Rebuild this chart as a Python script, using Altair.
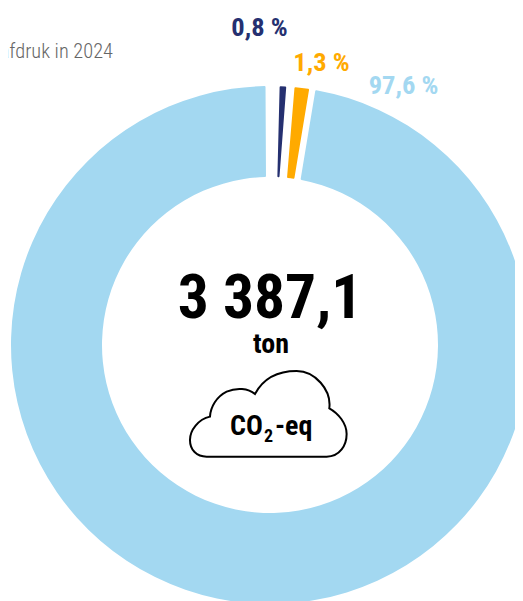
import altair as alt
import pandas as pd

names = ["blue", "gap1", "dark", "gap2", "orange"]
shares = [97.6, 0.48, 0.8, 0.12, 1.3]
colors = ["#a3d8f1", "#ffffff", "#253070", "#ffffff", "#ffaa00"]
order = [0, 1, 2, 3, 4]
DARK, ORANGE, BLUE = "#253070", "#ffaa00", "#a3d8f1"
label_texts = ["0,8 %", "1,3 %", "97,6 %"]
FONT = "Roboto Condensed, Liberation Sans Narrow, Roboto"

W, H = 507, 593
CX, CY = 262, 337
START = 0.16406

df = pd.DataFrame({"name": names, "share": shares, "o": order})

arcs = alt.Chart(df).mark_arc(radius=259, radius2=168, padAngle=0.0205, cornerRadius=1).encode(
    theta=alt.Theta("share:Q", stack=True, scale=alt.Scale(domain=[0, sum(shares)], range=[START, START + 6.28319])),
    color=alt.Color("name:N", scale=alt.Scale(domain=names, range=colors), legend=None),
    order=alt.Order("o:Q"),
    x=alt.value(CX), y=alt.value(CY),
)

def txt(t, x, y, size, color="#000000", weight="bold", align="center", font=FONT):
    return alt.Chart(pd.DataFrame({"t": [t]})).mark_text(
        fontSize=size, fontWeight=weight, font=font, align=align, baseline="alphabetic", color=color
    ).encode(text="t:N", x=alt.value(x), y=alt.value(y))

raw = [("M", 110, 590), ("L", 470, 590),
       ("C", 510, 590, 530, 555, 530, 522), ("C", 530, 490, 505, 460, 478, 445),
       ("C", 485, 390, 435, 333, 380, 333), ("C", 325, 333, 280, 355, 255, 402),
       ("C", 235, 385, 200, 382, 170, 395), ("C", 140, 410, 122, 440, 120, 470),
       ("C", 85, 478, 60, 510, 60, 540), ("C", 60, 570, 80, 590, 110, 590), ("Z",)]
parts = []
for seg in raw:
    nums = seg[1:]
    pts = [f"{(nums[i]-295)/300:.4f},{(nums[i+1]-460)/300:.4f}" for i in range(0, len(nums), 2)]
    parts.append(seg[0] + " ".join(pts))
cloud_path = " ".join(parts)

cloud = alt.Chart(pd.DataFrame({"c": [1]})).mark_point(
    shape=cloud_path, size=40000, filled=False, stroke="#000000", strokeWidth=2, opacity=1
).encode(x=alt.value(260.3), y=alt.value(405.3))

chart = alt.layer(
    arcs,
    txt("Klimaatafdruk in 2024", 105, 50, 20.4, "#666666", 300, "right"),
    txt(label_texts[0], 251.5, 28, 26.5, DARK),
    txt(label_texts[1], 313.5, 63, 26.5, ORANGE),
    txt(label_texts[2], 395.5, 86, 26.5, BLUE),
    txt("3 387,1", 262, 310, 61.5),
    txt("ton", 263, 345, 28),
    cloud,
    txt("CO", 222, 427, 28, align="left"),
    txt("2", 256, 434, 18, align="left"),
    txt("-eq", 267, 427, 28, align="left"),
).properties(width=W, height=H, padding=0, autosize=alt.AutoSizeParams(type="none")
).configure_view(stroke=None)

chart.save("out.html", embed_options={"renderer": "svg", "actions": False})
